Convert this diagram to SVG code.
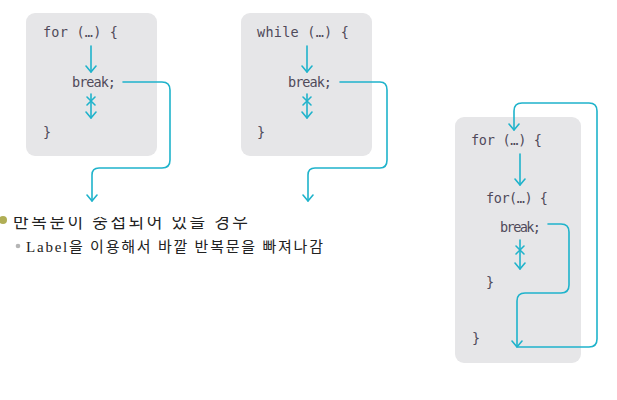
<svg xmlns="http://www.w3.org/2000/svg" width="617" height="400" viewBox="0 0 617 400">
<style>
.box{fill:#e6e6e8;}
.code{font-family:"DejaVu Sans Mono","Liberation Mono",monospace;font-size:13.5px;fill:#4f4a5a;}
.ln{fill:none;stroke:#1fb3cb;stroke-width:1.6;stroke-linecap:round;stroke-linejoin:round;}
.ko1{font-family:"Noto Sans CJK KR",sans-serif;font-size:17px;fill:#222;}
.ko2{font-family:"Liberation Serif","Noto Sans CJK KR",serif;font-size:15px;fill:#222;}
</style>
<defs>
<marker id="ahd" viewBox="0 0 12 12" refX="6" refY="11" markerWidth="12" markerHeight="12" markerUnits="userSpaceOnUse" orient="0">
<polyline points="1,5 6,11 11,5" fill="none" stroke="#1fb3cb" stroke-width="1.6" stroke-linecap="round" stroke-linejoin="round"/>
</marker>
<clipPath id="cut"><rect x="0" y="217" width="617" height="30"/></clipPath>
</defs>

<g id="for-box">
<rect class="box" x="26" y="13" width="131" height="143" rx="9"/>
<text class="code" x="43" y="37" textLength="75">for (…) {</text>
<text class="code" x="72" y="87" textLength="44">break;</text>
<text class="code" x="43" y="137">}</text>
</g>

<g id="while-box">
<rect class="box" x="241" y="13" width="131" height="143" rx="9"/>
<text class="code" x="257" y="37" textLength="92">while (…) {</text>
<text class="code" x="288" y="87" textLength="44">break;</text>
<text class="code" x="257" y="137">}</text>
</g>

<g id="nested-box">
<rect class="box" x="455" y="117" width="126" height="246" rx="9"/>
<text class="code" x="471" y="145" textLength="71">for (…) {</text>
<text class="code" x="486" y="203" textLength="62">for(…) {</text>
<text class="code" x="500" y="232" textLength="41">break;</text>
<text class="code" x="486" y="287">}</text>
<text class="code" x="472" y="343">}</text>
</g>

<g id="connectors">
<line class="ln" x1="91" y1="46" x2="91" y2="72" marker-end="url(#ahd)"/>
<line class="ln" x1="91" y1="94" x2="91" y2="118" marker-end="url(#ahd)"/>
<path class="ln" d="M87,97 L95,105 M95,97 L87,105"/>
<path class="ln" d="M123,82 H162 Q170,82 170,90 V160 Q170,168 162,168 H99 Q92,168 92,175 V201" marker-end="url(#ahd)"/>
<line class="ln" x1="307" y1="46" x2="307" y2="72" marker-end="url(#ahd)"/>
<line class="ln" x1="307" y1="94" x2="307" y2="118" marker-end="url(#ahd)"/>
<path class="ln" d="M303,97 L311,105 M311,97 L303,105"/>
<path class="ln" d="M340,82 H380 Q387,82 387,90 V160 Q387,168 380,168 H315 Q308,168 308,175 V201" marker-end="url(#ahd)"/>
<line class="ln" x1="520" y1="154" x2="520" y2="185" marker-end="url(#ahd)"/>
<line class="ln" x1="520" y1="240" x2="520" y2="269" marker-end="url(#ahd)"/>
<path class="ln" d="M516,246 L524,254 M524,246 L516,254"/>
<path class="ln" d="M548,224 H561 Q569,224 569,232 V285 Q569,293 561,293 H525 Q517,293 517,301 V347" marker-end="url(#ahd)"/>
<path class="ln" d="M518,347 H589 Q597,347 597,339 V111 Q597,103 589,103 H522 Q514,103 514,111 V130" marker-end="url(#ahd)"/>
</g>

<g id="bullets">
<circle cx="3" cy="220" r="4" fill="#b0ae55"/>
<text class="ko1" x="13" y="228" textLength="235" clip-path="url(#cut)">반복문이 중첩되어 있을 경우</text>
<circle cx="18" cy="246" r="2.3" fill="#b5b5b5"/>
<text class="ko2" x="26" y="252" textLength="297">Label을 이용해서 바깥 반복문을 빠져나감</text>
</g>
</svg>
